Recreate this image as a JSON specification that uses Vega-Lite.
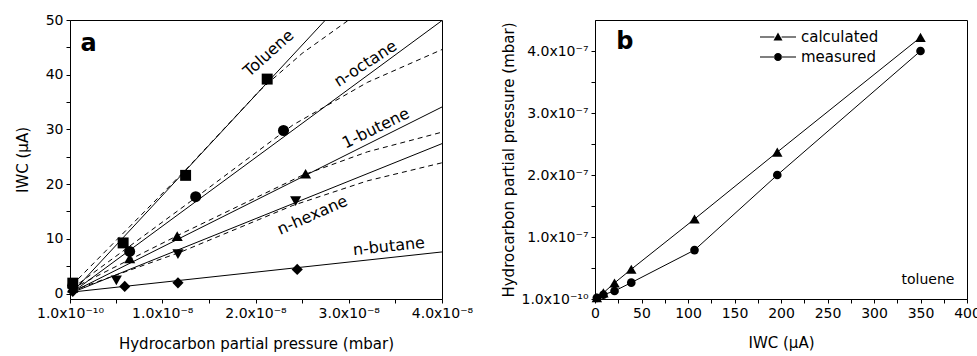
{
  "$schema": "https://vega.github.io/schema/vega-lite/v6.json",
  "autosize": {"type": "pad"},
  "padding": {"left": 14, "top": 12, "right": 0, "bottom": 0},
  "bounds": "flush",
  "spacing": 153,
  "config": {
    "font": "DejaVu Sans",
    "view": {"stroke": "black", "strokeWidth": 1},
    "axis": {
      "grid": false, "domainColor": "black", "tickColor": "black", "labelColor": "black",
      "titleColor": "black", "labelFontSize": 14, "titleFontSize": 15, "titleFontWeight": "normal",
      "tickSize": 4, "labelPadding": 3, "labelFont": "DejaVu Sans", "titleFont": "DejaVu Sans"
    },
    "text": {"font": "DejaVu Sans", "color": "black"}
  },
  "datasets": {
    "solidA": [
      {"series": "Toluene", "pressure": 5e-10, "current": 0.5},
      {"series": "Toluene", "pressure": 2.75e-8, "current": 50},
      {"series": "n-octane", "pressure": 5e-10, "current": 0.4},
      {"series": "n-octane", "pressure": 4e-8, "current": 49.9},
      {"series": "1-butene", "pressure": 5e-10, "current": 0.4},
      {"series": "1-butene", "pressure": 4e-8, "current": 34.1},
      {"series": "n-hexane", "pressure": 5e-10, "current": 0.3},
      {"series": "n-hexane", "pressure": 4e-8, "current": 27.4},
      {"series": "n-butane", "pressure": 5e-10, "current": 0.3},
      {"series": "n-butane", "pressure": 4e-8, "current": 7.6}
    ],
    "dashedA": [
      {"series": "Toluene", "pressure": 3e-10, "current": 1.5},
      {"series": "Toluene", "pressure": 1.25e-8, "current": 22.6},
      {"series": "Toluene", "pressure": 2.05e-8, "current": 37.2},
      {"series": "Toluene", "pressure": 2.5e-8, "current": 43.9},
      {"series": "Toluene", "pressure": 3.0e-8, "current": 50},
      {"series": "n-octane", "pressure": 3e-10, "current": 0.9},
      {"series": "n-octane", "pressure": 1.3e-8, "current": 16.8},
      {"series": "n-octane", "pressure": 2.4e-8, "current": 30.8},
      {"series": "n-octane", "pressure": 3.2e-8, "current": 38.6},
      {"series": "n-octane", "pressure": 4e-8, "current": 44.6},
      {"series": "1-butene", "pressure": 3e-10, "current": 0.9},
      {"series": "1-butene", "pressure": 1.2e-8, "current": 10.9},
      {"series": "1-butene", "pressure": 2.5e-8, "current": 21.6},
      {"series": "1-butene", "pressure": 3.2e-8, "current": 25.9},
      {"series": "1-butene", "pressure": 4e-8, "current": 29.5},
      {"series": "n-hexane", "pressure": 3e-10, "current": 0.5},
      {"series": "n-hexane", "pressure": 1.2e-8, "current": 7.6},
      {"series": "n-hexane", "pressure": 2.4e-8, "current": 16.1},
      {"series": "n-hexane", "pressure": 3.2e-8, "current": 20.6},
      {"series": "n-hexane", "pressure": 4e-8, "current": 23.9}
    ],
    "pointsA": [
      {"series": "Toluene", "pressure": 4e-10, "current": 1.9},
      {"series": "Toluene", "pressure": 5.8e-9, "current": 9.25},
      {"series": "Toluene", "pressure": 1.25e-8, "current": 21.6},
      {"series": "Toluene", "pressure": 2.125e-8, "current": 39.2},
      {"series": "n-octane", "pressure": 4e-10, "current": 1.4},
      {"series": "n-octane", "pressure": 6.5e-9, "current": 7.7},
      {"series": "n-octane", "pressure": 1.358e-8, "current": 17.7},
      {"series": "n-octane", "pressure": 2.3e-8, "current": 29.8},
      {"series": "1-butene", "pressure": 4e-10, "current": 1.0},
      {"series": "1-butene", "pressure": 6.5e-9, "current": 6.4},
      {"series": "1-butene", "pressure": 1.16e-8, "current": 10.5},
      {"series": "1-butene", "pressure": 2.537e-8, "current": 21.9},
      {"series": "n-hexane", "pressure": 4e-10, "current": 0.7},
      {"series": "n-hexane", "pressure": 5.07e-9, "current": 2.4},
      {"series": "n-hexane", "pressure": 1.168e-8, "current": 7.2},
      {"series": "n-hexane", "pressure": 2.43e-8, "current": 16.9},
      {"series": "n-butane", "pressure": 4e-10, "current": 0.4},
      {"series": "n-butane", "pressure": 5.97e-9, "current": 1.3},
      {"series": "n-butane", "pressure": 1.168e-8, "current": 1.95},
      {"series": "n-butane", "pressure": 2.447e-8, "current": 4.4}
    ],
    "toluene": [
      {"series": "calculated", "current": 2, "pressure": 2e-9},
      {"series": "calculated", "current": 9, "pressure": 1.0e-8},
      {"series": "calculated", "current": 21, "pressure": 2.6e-8},
      {"series": "calculated", "current": 39, "pressure": 4.8e-8},
      {"series": "calculated", "current": 107, "pressure": 1.29e-7},
      {"series": "calculated", "current": 196, "pressure": 2.37e-7},
      {"series": "calculated", "current": 350, "pressure": 4.22e-7},
      {"series": "measured", "current": 2, "pressure": 2e-9},
      {"series": "measured", "current": 9, "pressure": 7e-9},
      {"series": "measured", "current": 21, "pressure": 1.3e-8},
      {"series": "measured", "current": 39, "pressure": 2.65e-8},
      {"series": "measured", "current": 107, "pressure": 7.9e-8},
      {"series": "measured", "current": 196, "pressure": 2.0e-7},
      {"series": "measured", "current": 350, "pressure": 4.0e-7}
    ]
  },
  "hconcat": [
    {
      "width": 372,
      "height": 279,
      "encoding": {
        "x": {
          "field": "pressure", "type": "quantitative",
          "scale": {"domain": [1e-10, 4e-8], "nice": false, "zero": false},
          "axis": {
            "title": "Hydrocarbon partial pressure (mbar)",
            "values": [1e-10, 5e-9, 1e-8, 1.5e-8, 2e-8, 2.5e-8, 3e-8, 3.5e-8, 4e-8],
            "labelExpr": "datum.value < 1e-9 ? '1.0x10⁻¹⁰' : (abs(datum.value*1e8 - round(datum.value*1e8)) < 0.01 ? format(datum.value*1e8, '.1f') + 'x10⁻⁸' : '')",
            "labelFlush": false, "titlePadding": 16
          }
        },
        "y": {
          "field": "current", "type": "quantitative",
          "scale": {"domain": [-1, 50], "nice": false, "zero": false},
          "axis": {
            "title": "IWC (μA)",
            "values": [0, 5, 10, 15, 20, 25, 30, 35, 40, 45, 50],
            "labelExpr": "datum.value % 10 == 0 ? datum.label : ''",
            "titlePadding": 15
          }
        }
      },
      "layer": [
        {
          "data": {"name": "solidA"},
          "mark": {"type": "line", "color": "black", "strokeWidth": 1},
          "encoding": {"detail": {"field": "series"}}
        },
        {
          "data": {"name": "dashedA"},
          "mark": {"type": "line", "color": "black", "strokeWidth": 1, "strokeDash": [5, 4]},
          "encoding": {"detail": {"field": "series"}}
        },
        {
          "data": {"name": "pointsA"},
          "mark": {"type": "point", "filled": true, "color": "black", "opacity": 1},
          "encoding": {
            "shape": {
              "field": "series", "type": "nominal",
              "scale": {"domain": ["Toluene", "n-octane", "1-butene", "n-hexane", "n-butane"],
                        "range": ["square", "circle", "triangle-up", "triangle-down", "diamond"]},
              "legend": null
            },
            "size": {
              "field": "series", "type": "nominal",
              "scale": {"domain": ["Toluene", "n-octane", "1-butene", "n-hexane", "n-butane"],
                        "range": [120, 125, 190, 190, 170]},
              "legend": null
            }
          }
        },
        {
          "data": {"values": [{"label": "a", "pressure": 2.1e-9, "current": 45.7}]},
          "mark": {"type": "text", "fontSize": 24, "fontWeight": "bold", "align": "center", "baseline": "middle"},
          "encoding": {"text": {"field": "label"}}
        },
        {
          "data": {"values": [{"label": "Toluene", "pressure": 2.14e-8, "current": 43.9}]},
          "mark": {"type": "text", "fontSize": 16, "angle": 318, "align": "center", "baseline": "middle"},
          "encoding": {"text": {"field": "label"}}
        },
        {
          "data": {"values": [{"label": "n-octane", "pressure": 3.18e-8, "current": 42.0}]},
          "mark": {"type": "text", "fontSize": 16, "angle": 327, "align": "center", "baseline": "middle"},
          "encoding": {"text": {"field": "label"}}
        },
        {
          "data": {"values": [{"label": "1-butene", "pressure": 3.29e-8, "current": 30.2}]},
          "mark": {"type": "text", "fontSize": 16, "angle": 334, "align": "center", "baseline": "middle"},
          "encoding": {"text": {"field": "label"}}
        },
        {
          "data": {"values": [{"label": "n-hexane", "pressure": 2.61e-8, "current": 14.3}]},
          "mark": {"type": "text", "fontSize": 16, "angle": 336, "align": "center", "baseline": "middle"},
          "encoding": {"text": {"field": "label"}}
        },
        {
          "data": {"values": [{"label": "n-butane", "pressure": 3.43e-8, "current": 8.6}]},
          "mark": {"type": "text", "fontSize": 16, "angle": 354, "align": "center", "baseline": "middle"},
          "encoding": {"text": {"field": "label"}}
        }
      ]
    },
    {
      "width": 372,
      "height": 279,
      "data": {"name": "toluene"},
      "encoding": {
        "x": {
          "field": "current", "type": "quantitative",
          "scale": {"domain": [0, 400], "nice": false},
          "axis": {
            "title": "IWC (μA)",
            "values": [0, 25, 50, 75, 100, 125, 150, 175, 200, 225, 250, 275, 300, 325, 350, 375, 400],
            "labelExpr": "datum.value % 50 == 0 ? datum.label : ''",
            "labelFlush": false, "titlePadding": 15
          }
        },
        "y": {
          "field": "pressure", "type": "quantitative",
          "scale": {"domain": [1e-10, 4.5e-7], "nice": false, "zero": false},
          "axis": {
            "title": "Hydrocarbon partial pressure (mbar)",
            "values": [1e-10, 5e-8, 1e-7, 1.5e-7, 2e-7, 2.5e-7, 3e-7, 3.5e-7, 4e-7],
            "labelExpr": "datum.value < 1e-9 ? '1.0x10⁻¹⁰' : (abs(datum.value*1e7 - round(datum.value*1e7)) < 0.01 ? format(datum.value*1e7, '.1f') + 'x10⁻⁷' : '')",
            "titlePadding": 5
          }
        }
      },
      "layer": [
        {
          "mark": {"type": "line", "color": "black", "strokeWidth": 1},
          "encoding": {"detail": {"field": "series"}}
        },
        {
          "mark": {"type": "point", "filled": true, "color": "black", "opacity": 1},
          "encoding": {
            "shape": {
              "field": "series", "type": "nominal",
              "scale": {"domain": ["calculated", "measured"], "range": ["triangle-up", "circle"]},
              "legend": null
            },
            "size": {
              "field": "series", "type": "nominal",
              "scale": {"domain": ["calculated", "measured"], "range": [110, 75]},
              "legend": null
            }
          }
        },
        {
          "mark": {"type": "point", "filled": true, "color": "black", "opacity": 0},
          "encoding": {
            "shape": {
              "field": "series", "type": "nominal",
              "scale": {"domain": ["calculated", "measured"],
                        "range": ["M-2,-0.06H-0.4V0.06H-2ZM0.4,-0.06H2V0.06H0.4ZM-0.5,0.4L0,-0.5L0.5,0.4Z",
                                  "M-2,-0.06H-0.4V0.06H-2ZM0.4,-0.06H2V0.06H0.4ZM-0.45,0A0.45,0.45,0,1,0,0.45,0A0.45,0.45,0,1,0,-0.45,0Z"]},
              "legend": {
                "title": null, "orient": "none", "legendX": 174, "legendY": 8,
                "labelFontSize": 15, "labelColor": "black", "labelOffset": 14,
                "symbolSize": 324, "symbolFillColor": "black", "symbolStrokeColor": "black",
                "symbolStrokeWidth": 0, "symbolOpacity": 1, "rowPadding": 3
              }
            }
          }
        },
        {
          "data": {"values": [{"label": "b", "current": 32, "pressure": 4.15e-7}]},
          "mark": {"type": "text", "fontSize": 24, "fontWeight": "bold", "align": "center", "baseline": "middle"},
          "encoding": {"text": {"field": "label"}}
        },
        {
          "data": {"values": [{"label": "toluene", "current": 358, "pressure": 3.0e-8}]},
          "mark": {"type": "text", "fontSize": 14, "align": "center", "baseline": "middle"},
          "encoding": {"text": {"field": "label"}}
        }
      ],
      "resolve": {"scale": {"shape": "independent", "size": "independent"}}
    }
  ]
}
